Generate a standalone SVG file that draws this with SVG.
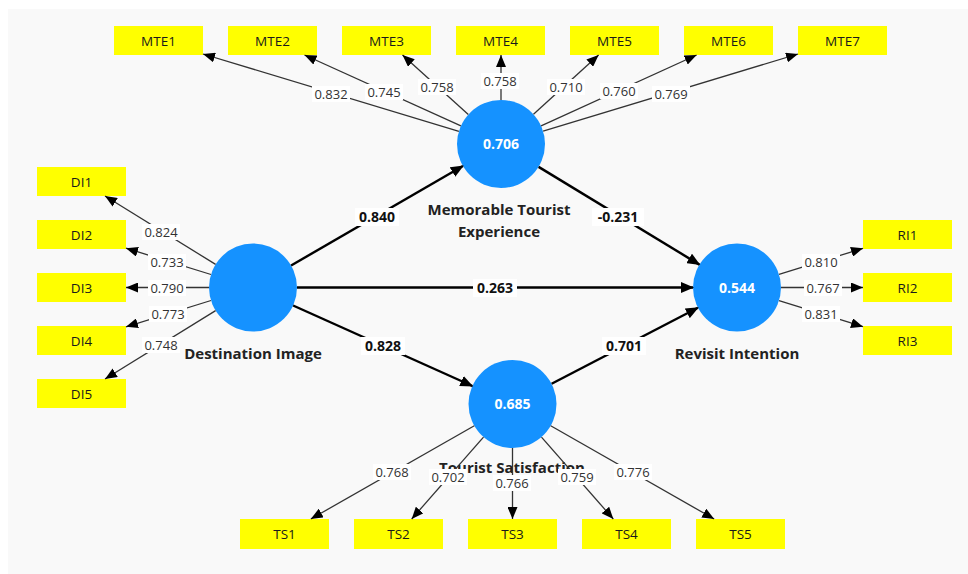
<svg xmlns="http://www.w3.org/2000/svg" width="968" height="574" viewBox="0 0 968 574">
<defs>
<marker id="ah" markerUnits="userSpaceOnUse" markerWidth="12" markerHeight="10" refX="12" refY="5" orient="auto"><path d="M0,0 L12,5 L0,10 z" fill="#000"/></marker>
<marker id="ahb" markerUnits="userSpaceOnUse" markerWidth="13" markerHeight="11" refX="12" refY="5.5" orient="auto"><path d="M0,0 L13,5.5 L0,11 z" fill="#000"/></marker>
<style>
.box{fill:#ffff00}
.bt{font-family:"Open Sans","Noto Sans",sans-serif;font-size:13.5px;fill:#1a1a1a;text-anchor:middle}
.lv{fill:#1592ff}
.vt{font-family:"Open Sans","Noto Sans",sans-serif;font-size:14px;font-weight:bold;fill:#fff;text-anchor:middle}
.nm{font-family:"Open Sans","Noto Sans",sans-serif;font-size:15px;font-weight:bold;fill:#222;text-anchor:middle}
.thin{stroke:#333;stroke-width:1.3;fill:none;marker-end:url(#ah)}
.thick{stroke:#000;stroke-width:2.4;fill:none;marker-end:url(#ahb)}
.lb{fill:#fff}
.lt{font-family:"Open Sans","Noto Sans",sans-serif;font-size:13px;fill:#333;text-anchor:middle}
.pt{font-family:"Open Sans","Noto Sans",sans-serif;font-size:14px;font-weight:bold;fill:#111;text-anchor:middle}
</style>
</defs>
<rect x="0" y="0" width="968" height="574" fill="#fff"/>
<rect x="8" y="9" width="960" height="565" fill="#f9f9f9"/>

<g id="MTE1"><rect class="box" x="114" y="26" width="89" height="29"/><text class="bt" x="158.5" y="45.5">MTE1</text></g>
<g id="MTE2"><rect class="box" x="228" y="26" width="89" height="29"/><text class="bt" x="272.5" y="45.5">MTE2</text></g>
<g id="MTE3"><rect class="box" x="342" y="26" width="89" height="29"/><text class="bt" x="386.5" y="45.5">MTE3</text></g>
<g id="MTE4"><rect class="box" x="456" y="26" width="89" height="29"/><text class="bt" x="500.5" y="45.5">MTE4</text></g>
<g id="MTE5"><rect class="box" x="570" y="26" width="89" height="29"/><text class="bt" x="614.5" y="45.5">MTE5</text></g>
<g id="MTE6"><rect class="box" x="684" y="26" width="89" height="29"/><text class="bt" x="728.5" y="45.5">MTE6</text></g>
<g id="MTE7"><rect class="box" x="798" y="26" width="89" height="29"/><text class="bt" x="842.5" y="45.5">MTE7</text></g>

<g id="DI1"><rect class="box" x="37" y="167" width="89" height="29"/><text class="bt" x="81.5" y="186.5">DI1</text></g>
<g id="DI2"><rect class="box" x="37" y="220" width="89" height="29"/><text class="bt" x="81.5" y="239.5">DI2</text></g>
<g id="DI3"><rect class="box" x="37" y="273" width="89" height="29"/><text class="bt" x="81.5" y="292.5">DI3</text></g>
<g id="DI4"><rect class="box" x="37" y="326" width="89" height="29"/><text class="bt" x="81.5" y="345.5">DI4</text></g>
<g id="DI5"><rect class="box" x="37" y="379" width="89" height="29"/><text class="bt" x="81.5" y="398.5">DI5</text></g>

<g id="RI1"><rect class="box" x="863" y="220" width="89" height="29"/><text class="bt" x="907.5" y="239.5">RI1</text></g>
<g id="RI2"><rect class="box" x="863" y="273" width="89" height="29"/><text class="bt" x="907.5" y="292.5">RI2</text></g>
<g id="RI3"><rect class="box" x="863" y="326" width="89" height="29"/><text class="bt" x="907.5" y="345.5">RI3</text></g>

<g id="TS1"><rect class="box" x="240" y="519" width="89" height="30"/><text class="bt" x="284.5" y="539">TS1</text></g>
<g id="TS2"><rect class="box" x="354" y="519" width="89" height="30"/><text class="bt" x="398.5" y="539">TS2</text></g>
<g id="TS3"><rect class="box" x="468" y="519" width="89" height="30"/><text class="bt" x="512.5" y="539">TS3</text></g>
<g id="TS4"><rect class="box" x="582" y="519" width="89" height="30"/><text class="bt" x="626.5" y="539">TS4</text></g>
<g id="TS5"><rect class="box" x="696" y="519" width="89" height="30"/><text class="bt" x="740.5" y="539">TS5</text></g>

<g id="MTE"><circle class="lv" cx="501" cy="144" r="44"/><text class="vt" x="501" y="149">0.706</text><text class="nm" x="499" y="214.5">Memorable Tourist</text><text class="nm" x="499" y="236.5">Experience</text></g>
<g id="DI"><circle class="lv" cx="253" cy="287.5" r="44"/><text class="nm" x="253" y="358.5">Destination Image</text></g>
<g id="RI"><circle class="lv" cx="737" cy="287.5" r="44"/><text class="vt" x="737" y="292.5">0.544</text><text class="nm" x="737" y="358.5">Revisit Intention</text></g>
<g id="TS"><circle class="lv" cx="512.5" cy="404" r="44"/><text class="vt" x="512.5" y="409">0.685</text><text class="nm" x="512" y="472.5">Tourist Satisfaction</text></g>

<g id="connectors">
<line class="thin" x1="458.9" y1="131.3" x2="203" y2="54"/>
<line class="thin" x1="460.9" y1="125.8" x2="304.5" y2="55"/>
<line class="thin" x1="468.3" y1="114.5" x2="402.5" y2="55"/>
<line class="thin" x1="501" y1="100" x2="501" y2="55"/>
<line class="thin" x1="533.5" y1="114.3" x2="598.6" y2="55"/>
<line class="thin" x1="541.1" y1="125.8" x2="696.6" y2="55"/>
<line class="thin" x1="543.1" y1="131.2" x2="798" y2="54"/>

<line class="thin" x1="215.6" y1="264.4" x2="105" y2="196"/>
<line class="thin" x1="211" y1="274.5" x2="126" y2="248.2"/>
<line class="thin" x1="209" y1="287.5" x2="126" y2="287.5"/>
<line class="thin" x1="211" y1="300.5" x2="126" y2="326.8"/>
<line class="thin" x1="215.6" y1="310.6" x2="105" y2="379"/>

<line class="thin" x1="779" y1="274.4" x2="863" y2="248.3"/>
<line class="thin" x1="781" y1="287.5" x2="863" y2="287.5"/>
<line class="thin" x1="779" y1="300.6" x2="863" y2="326.7"/>

<line class="thin" x1="474.3" y1="425.8" x2="310.8" y2="519"/>
<line class="thin" x1="483.5" y1="437.1" x2="411.7" y2="519"/>
<line class="thin" x1="512.5" y1="448" x2="512.5" y2="519"/>
<line class="thin" x1="541.5" y1="437.1" x2="613.3" y2="519"/>
<line class="thin" x1="550.7" y1="425.8" x2="714.2" y2="519"/>

<line class="thick" x1="291.1" y1="265.5" x2="462.9" y2="166"/>
<line class="thick" x1="538.6" y1="166.9" x2="699.4" y2="264.6"/>
<line class="thick" x1="297" y1="287.5" x2="693" y2="287.5"/>
<line class="thick" x1="293.1" y1="305.5" x2="472.4" y2="386"/>
<line class="thick" x1="551.6" y1="383.7" x2="697.9" y2="307.8"/>

<g><rect class="lb" x="312" y="86" width="38" height="16"/><text class="lt" x="331" y="98.5">0.832</text></g>
<g><rect class="lb" x="365" y="84" width="38" height="16"/><text class="lt" x="384" y="96.5">0.745</text></g>
<g><rect class="lb" x="418" y="79" width="38" height="16"/><text class="lt" x="437" y="91.5">0.758</text></g>
<g><rect class="lb" x="481" y="73" width="38" height="16"/><text class="lt" x="500" y="85.5">0.758</text></g>
<g><rect class="lb" x="547" y="79" width="38" height="16"/><text class="lt" x="566" y="91.5">0.710</text></g>
<g><rect class="lb" x="600" y="83" width="38" height="16"/><text class="lt" x="619" y="95.5">0.760</text></g>
<g><rect class="lb" x="652" y="86" width="38" height="16"/><text class="lt" x="671" y="98.5">0.769</text></g>

<g><rect class="lb" x="142" y="224" width="38" height="16"/><text class="lt" x="161" y="236.5">0.824</text></g>
<g><rect class="lb" x="148" y="254" width="38" height="16"/><text class="lt" x="167" y="266.5">0.733</text></g>
<g><rect class="lb" x="148" y="280" width="38" height="16"/><text class="lt" x="167" y="292.5">0.790</text></g>
<g><rect class="lb" x="149" y="306" width="38" height="16"/><text class="lt" x="168" y="318.5">0.773</text></g>
<g><rect class="lb" x="142" y="337" width="38" height="16"/><text class="lt" x="161" y="349.5">0.748</text></g>

<g><rect class="lb" x="802" y="254" width="38" height="16"/><text class="lt" x="821" y="266.5">0.810</text></g>
<g><rect class="lb" x="804" y="280" width="38" height="16"/><text class="lt" x="823" y="292.5">0.767</text></g>
<g><rect class="lb" x="802" y="306" width="38" height="16"/><text class="lt" x="821" y="318.5">0.831</text></g>

<g><rect class="lb" x="373" y="464" width="38" height="16"/><text class="lt" x="392" y="476.5">0.768</text></g>
<g><rect class="lb" x="429" y="469" width="38" height="16"/><text class="lt" x="448" y="481.5">0.702</text></g>
<g><rect class="lb" x="493" y="475" width="38" height="16"/><text class="lt" x="512" y="487.5">0.766</text></g>
<g><rect class="lb" x="558" y="469" width="38" height="16"/><text class="lt" x="577" y="481.5">0.759</text></g>
<g><rect class="lb" x="614" y="464" width="38" height="16"/><text class="lt" x="633" y="476.5">0.776</text></g>

<g><rect class="lb" x="355" y="208" width="44" height="18"/><text class="pt" x="377" y="222">0.840</text></g>
<g><rect class="lb" x="592" y="208" width="52" height="18"/><text class="pt" x="618" y="222">-0.231</text></g>
<g><rect class="lb" x="473" y="279" width="44" height="18"/><text class="pt" x="495" y="293">0.263</text></g>
<g><rect class="lb" x="361" y="337" width="44" height="18"/><text class="pt" x="383" y="351">0.828</text></g>
<g><rect class="lb" x="602" y="337" width="44" height="18"/><text class="pt" x="624" y="351">0.701</text></g>
</g>
</svg>
